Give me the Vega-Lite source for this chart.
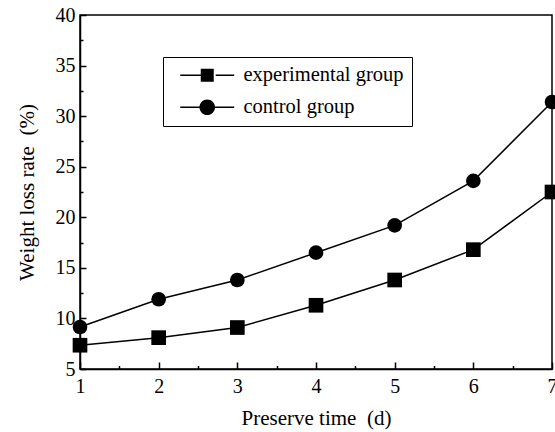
{
  "$schema": "https://vega.github.io/schema/vega-lite/v6.json",
  "width": 472,
  "height": 354,
  "autosize": {"type": "none"},
  "padding": {"left": 80, "top": 15, "right": 3, "bottom": 63},
  "config": {
    "font": "Liberation Serif",
    "view": {"stroke": "black", "strokeWidth": 1.5},
    "axis": {
      "grid": false,
      "domainColor": "black",
      "domainWidth": 1.5,
      "tickColor": "black",
      "tickWidth": 1.5,
      "labelColor": "black",
      "labelFontSize": 20,
      "titleColor": "black",
      "titleFontSize": 21,
      "titleFontWeight": "normal"
    }
  },
  "data": {
    "values": [
      {"day": 1, "rate": 7.35, "group": "experimental group"},
      {"day": 2, "rate": 8.1, "group": "experimental group"},
      {"day": 3, "rate": 9.1, "group": "experimental group"},
      {"day": 4, "rate": 11.3, "group": "experimental group"},
      {"day": 5, "rate": 13.8, "group": "experimental group"},
      {"day": 6, "rate": 16.8, "group": "experimental group"},
      {"day": 7, "rate": 22.5, "group": "experimental group"},
      {"day": 1, "rate": 9.15, "group": "control group"},
      {"day": 2, "rate": 11.9, "group": "control group"},
      {"day": 3, "rate": 13.8, "group": "control group"},
      {"day": 4, "rate": 16.5, "group": "control group"},
      {"day": 5, "rate": 19.2, "group": "control group"},
      {"day": 6, "rate": 23.6, "group": "control group"},
      {"day": 7, "rate": 31.4, "group": "control group"}
    ]
  },
  "encoding": {
    "x": {
      "field": "day",
      "type": "quantitative",
      "scale": {"domain": [1, 7], "nice": false, "zero": false},
      "axis": {
        "title": "Preserve time\u00a0\u00a0(d)",
        "values": [1, 1.5, 2, 2.5, 3, 3.5, 4, 4.5, 5, 5.5, 6, 6.5, 7],
        "labelExpr": "datum.value % 1 === 0 ? format(datum.value, 'd') : ''",
        "tickSize": {"condition": {"test": "datum.value % 1 === 0", "value": -7}, "value": -3.5},
        "labelPadding": 14,
        "labelFlush": false,
        "labelOverlap": false,
        "titlePadding": 8
      }
    },
    "y": {
      "field": "rate",
      "type": "quantitative",
      "scale": {"domain": [5, 40], "nice": false, "zero": false},
      "axis": {
        "title": "Weight loss rate\u00a0\u00a0(%)",
        "values": [5, 7.5, 10, 12.5, 15, 17.5, 20, 22.5, 25, 27.5, 30, 32.5, 35, 37.5, 40],
        "labelExpr": "datum.value % 5 === 0 ? format(datum.value, 'd') : ''",
        "tickSize": {"condition": {"test": "datum.value % 5 === 0", "value": -6}, "value": -3},
        "labelPadding": 11,
        "labelFlush": false,
        "labelOverlap": false,
        "titlePadding": 18
      }
    }
  },
  "resolve": {"scale": {"shape": "independent"}, "legend": {"shape": "independent"}},
  "layer": [
    {
      "mark": {"type": "line", "color": "black", "strokeWidth": 1.5},
      "encoding": {"detail": {"field": "group"}}
    },
    {
      "mark": {"type": "point", "filled": true, "color": "black", "opacity": 1, "size": 215},
      "encoding": {
        "shape": {
          "field": "group",
          "type": "nominal",
          "scale": {"domain": ["experimental group", "control group"], "range": ["square", "circle"]},
          "legend": null
        }
      }
    },
    {
      "transform": [{"filter": "false"}],
      "mark": {"type": "point", "filled": true, "color": "black", "opacity": 1, "size": 169},
      "encoding": {
        "shape": {
          "field": "group",
          "type": "nominal",
          "scale": {
            "domain": ["experimental group", "control group"],
            "range": [
              "M-4.15,-0.12H-1V0.12H-4.15Z M1.3,-0.12H4.15V0.12H1.3Z M-1,-1H1V1H-1Z",
              "M-4.15,-0.12H-1.1V0.12H-4.15Z M1.1,-0.12H4.15V0.12H1.1Z M-1.2,0A1.2,1.2,0,1,1,1.2,0A1.2,1.2,0,1,1,-1.2,0Z"
            ]
          },
          "legend": {
            "title": null,
            "orient": "none",
            "legendX": 83,
            "legendY": 42,
            "strokeColor": "black",
            "fillColor": "white",
            "padding": 8,
            "symbolSize": 169,
            "symbolOffset": 26,
            "labelOffset": 26,
            "labelFontSize": 20.5,
            "labelColor": "black",
            "labelExpr": "datum.label + '\u00a0'",
            "rowPadding": 11,
            "symbolFillColor": "black",
            "symbolStrokeColor": "black",
            "symbolStrokeWidth": 0
          }
        }
      }
    }
  ]
}
